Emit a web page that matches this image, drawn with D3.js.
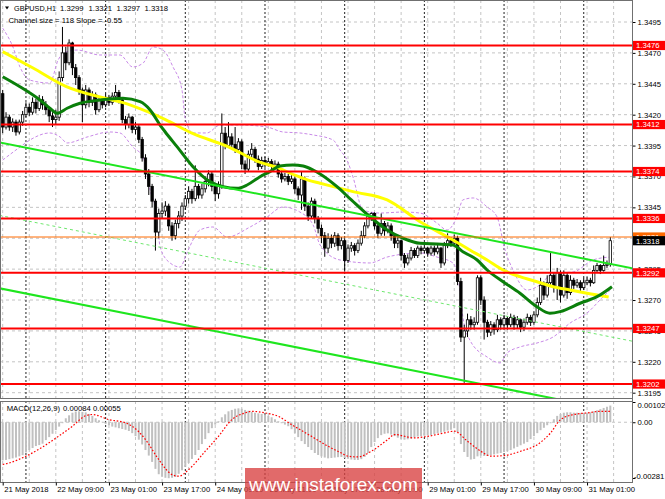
<!DOCTYPE html>
<html><head><meta charset="utf-8">
<script src="https://cdn.jsdelivr.net/npm/d3@7"></script>
<style>
body{margin:0;background:#fff}
svg{display:block}
text{font-family:"Liberation Sans",Arial,sans-serif;}
</style>
</head><body>
<svg id="c" width="665" height="499"></svg>
<script>
// ---------- DATA (prices stored as pips above 1.3000) ----------
const BASE = 1.3;
const firstOpen = 437;
const closePips = [410,418,410,414,406,414,420,426,422,430,
425,432,428,424,419,416,418,450,470,462,
478,458,450,440,428,440,430,436,424,432,
428,434,430,435,438,432,416,412,418,408,
410,400,385,372,362,350,325,340,342,346,
330,322,332,338,346,352,358,352,362,355,
360,366,372,362,356,362,405,395,402,396,
392,398,380,376,388,392,384,378,383,380,
382,378,380,372,368,370,366,368,360,355,
368,346,338,350,336,328,322,312,320,316,
322,314,318,302,312,314,310,316,322,330,
338,340,330,324,332,326,330,322,316,318,
306,300,304,310,306,312,310,312,308,312,
309,312,300,314,318,316,320,285,240,245,
254,250,252,288,270,252,244,250,246,254,
250,255,250,256,250,254,248,252,256,252,
258,268,282,274,284,290,280,292,274,290,
276,286,282,284,280,284,286,284,294,298,
294,298,299,318];
const highPips = [440,422,420,417,416,416,423,430,429,434,
433,436,435,431,426,422,424,455,491,475,
481,479,461,452,442,444,442,439,438,434,
435,437,436,438,444,440,434,419,421,419,
414,412,402,388,376,364,352,344,349,350,
348,333,335,342,349,355,362,360,379,364,
364,370,375,374,364,366,421,410,414,405,
410,401,400,383,391,397,394,387,386,386,
385,384,383,382,375,373,372,371,370,362,
374,370,349,353,352,338,331,325,324,323,
325,324,321,320,315,317,316,319,326,333,
340,341,341,332,340,334,333,332,324,321,
319,308,307,313,312,314,314,314,313,314,
314,315,313,317,324,321,323,322,288,250,
259,257,256,290,290,273,254,253,252,258,
256,258,257,259,258,257,255,255,259,258,
261,272,288,285,290,308,292,296,294,294,
292,290,288,287,286,288,289,288,298,300,
299,306,302,321];
const lowPips = [405,408,407,406,403,404,411,418,419,420,
421,423,424,420,414,410,412,415,447,456,
460,452,444,436,414,425,426,427,420,422,
425,426,427,428,432,429,413,408,409,405,
404,397,382,368,355,345,310,320,336,338,
326,318,319,328,334,343,348,348,350,352,
352,357,362,358,350,352,360,392,393,392,
389,390,376,372,374,385,381,375,376,377,
378,375,376,369,365,366,363,364,356,351,
343,342,334,336,332,324,316,305,308,312,
313,310,311,293,300,309,306,308,314,320,
328,334,327,320,322,322,324,318,312,312,
302,296,298,302,304,304,307,308,305,306,
306,307,296,298,312,313,314,282,236,203,
240,246,246,250,266,238,240,241,242,244,
246,247,246,248,246,247,244,245,250,249,
250,256,266,270,272,281,276,270,268,272,
271,274,279,280,277,278,282,281,283,292,
291,293,296,297];

// moving averages / bands: [bar index, pips]
const maYellow = [[0,471],[9,458],[19,443],[29,434.5],[36,430],[44,422],[49,416],[57,405],[68,394],[77,382],[83,377],[88,371],[92,367],[95.6,364.5],[105.5,357.7],[115.8,351],[125.7,333.4],[135.6,318.6],[140.7,310.5],[145.9,302.4],[150.7,294.3],[155.8,288.9],[160.9,284.8],[165.8,280.8],[170.9,278.1],[176,275.5],[182.5,272.5]];
const maGreen = [[0,450.7],[5.2,442.6],[11.2,431.9],[14.2,425.2],[16.4,421.1],[19.4,425.2],[23.3,429.2],[29.3,431.9],[36.2,433.3],[41.4,430.5],[44.4,423.8],[47.4,411.6],[48.9,406.2],[52.5,394.1],[57.3,377.9],[62.4,365.8],[66.4,361.7],[70.6,360.4],[73.6,363.1],[77.5,369.8],[80.5,373.9],[83.5,378.5],[87.4,379.3],[90.5,378.5],[93.5,375.2],[95.6,372],[100.7,361.7],[105,351],[110.6,337.4],[115.8,326.7],[120.6,320],[125.7,315.9],[130.8,315.3],[135.6,314.5],[138.6,309.1],[142.9,302.4],[145.9,294.3],[150.7,284.8],[155.8,275.5],[160.9,264.6],[164.8,259.3],[167.9,260.6],[173.9,267.4],[179,272.7],[183.5,280.8]];
const bandUpper = [[0,490],[3.1,474.7],[5.2,458.6],[8.2,448],[14.2,445.6],[16.7,464.2],[18.2,469.9],[22.4,472.3],[29.3,468.3],[35.3,468.3],[39.2,458.6],[42.3,461.8],[45.3,474.8],[48.3,472.3],[51.3,458.6],[54,440],[54.9,418.1],[57.3,405.2],[61.5,405.2],[65.5,411.6],[71.5,411.6],[79.6,410],[84.4,406],[89.5,405.2],[93.5,403.6],[99.5,399.5],[101.6,391.4],[103.7,383.3],[105.5,369.6],[108.5,342.9],[113.6,340.4],[120.6,341.2],[125.7,340.4],[130.8,332.3],[133.8,326.7],[136.8,337.2],[138.6,351],[141.7,352.6],[145.9,345.3],[148.9,337.2],[151.3,310.5],[153.7,294.3],[157.9,278.1],[161.8,282.2],[165.8,291.9],[171.8,292.7],[177.8,302.4],[182.9,304.8]];
const bandLower = [[0,383.3],[5.2,393.8],[8.2,399.5],[14.2,405.2],[17.3,401.9],[19.4,397.1],[25.4,401.9],[32.3,406],[35.3,405.2],[39.2,393.8],[42.3,385.7],[44.4,359],[46.5,337.2],[47.4,312.9],[50.4,300],[53.4,296.7],[55.5,308.1],[57.3,318.6],[59.4,326.7],[63.3,329.1],[67.6,321],[74.5,329.1],[79.6,337.2],[84.4,345.3],[89.5,341.2],[93.5,330.7],[95.6,314.5],[101.6,302.4],[110.6,300],[115.8,304.8],[125.7,308.1],[130.8,304.8],[135.6,300],[137.7,278.1],[138.6,256.3],[140.7,237.6],[145.9,223.9],[149.8,219.1],[151.9,227.1],[155.8,232],[160.9,235.2],[165.8,240.1],[170.9,251.4],[176,259.5],[180.8,272.5],[183,278.1]];

// regression channel: [bar, pips] anchors of upper line, width in pips
const channelStart = [0, 397];
const channelEnd = [190, 295.5];
const channelSize = 118;

const levels = [1.3476, 1.3412, 1.3374, 1.3336, 1.3292, 1.3247, 1.3202];
const askPrice = 1.3321;
const bidPrice = 1.3318;
const priceTicks = [1.3195,1.3220,1.3245,1.3270,1.3295,1.3320,1.3345,1.3370,1.3395,1.3420,1.3445,1.3470,1.3495];

const headerName = "GBPUSD,H1";
const headerOHLC = [1.3299, 1.3321, 1.3297, 1.3318];
const macdTitle = "MACD(12,26,9)";
const macdValues = [0.00084, 0.00055];

const timeTickBars = [0,16,32,48,64,80,96,112,128,144,160,176];
const timeLabels = ["21 May 2018","22 May 09:00","23 May 01:00","23 May 17:00","24 May 09:00","25 May 01:00","25 May 17:00","28 May 09:00","29 May 01:00","29 May 17:00","30 May 09:00","31 May 01:00"];
const gridBars = [0,8,16,24,32,40,48,56,64,72,80,88,96,104,112,120,128,136,144,152,160,168,176,184];
const daySepBars = [7,31,55,79,103,127,151,175];

// MACD histogram (units of 0.00001)
const macdHist = [-192,-190,-186,-182,-178,-172,-166,-152,-140,-130,
-120,-115,-108,-90,-75,-58,-40,-22,-5,20,
35,48,54,55,52,50,42,32,20,10,
2,-8,-15,-22,-26,-30,-34,-38,-44,-55,
-70,-88,-112,-140,-168,-200,-235,-262,-275,-280,
-282,-280,-276,-260,-242,-225,-205,-185,-165,-140,
-110,-85,-55,-30,-12,5,25,40,55,62,
68,70,68,62,58,52,48,45,42,38,
32,25,15,5,-5,-12,-20,-35,-55,-75,
-95,-110,-125,-140,-155,-165,-172,-178,-182,-180,
-178,-176,-175,-180,-184,-188,-190,-190,-186,-175,
-155,-125,-100,-80,-65,-58,-56,-62,-70,-78,
-85,-88,-86,-82,-76,-72,-70,-68,-66,-64,
-60,-55,-52,-48,-42,-38,-30,-50,-110,-150,
-175,-188,-185,-172,-168,-170,-170,-166,-162,-158,
-155,-150,-146,-140,-132,-124,-116,-108,-100,-85,
-70,-55,-40,-28,-15,-5,15,32,42,48,
50,50,48,48,47,47,48,50,55,60,
66,72,78,84];
// MACD signal: [bar, units of 0.00001]
const macdSignal = [[0,-213],[2,-205],[7,-171],[12,-125],[16,-80],[21,-20],[25,33],[27,39],[32,13],[37,-3],[39,-20],[43,-87],[47,-188],[51,-264],[53,-272],[56,-239],[61,-146],[65,-71],[69,13],[73,47],[75,55],[79,47],[83,30],[87,-12],[93,-71],[98,-121],[102,-155],[104,-171],[107,-175],[111,-146],[116,-87],[118,-62],[124,-79],[128,-71],[133,-54],[136,-45],[140,-96],[144,-146],[147,-171],[151,-168],[156,-146],[161,-113],[165,-54],[168,13],[172,39],[176,47],[180,55],[183,55]];
const macdTicks = [0.00102, 0, -0.00281];

// ---------- DRAW ----------
const FS = 7.7;
const FF = '"Liberation Sans",Arial,sans-serif';
const P = v => BASE + v / 10000;
const M = v => v / 100000;
const svg = d3.select("#c");
const W = 665, H = 499;
const plotR = 632;
const mainTop = 0, mainBot = 398, macdTop = 401, macdBot = 482;

const x = d3.scaleLinear().domain([0, 183]).range([2.7, 610.3]);
const y = d3.scaleLinear().domain([1.3195, 1.3495]).range([392.7, 22]);
const ym = d3.scaleLinear().domain([-0.00281, 0.00102]).range([478, 402]);

svg.append("rect").attr("width", W).attr("height", H).attr("fill", "#fff");

const defs = svg.append("defs");
defs.append("clipPath").attr("id", "clipMain").append("rect")
  .attr("x", 0).attr("y", mainTop).attr("width", plotR).attr("height", mainBot - mainTop);
defs.append("clipPath").attr("id", "clipMacd").append("rect")
  .attr("x", 0).attr("y", macdTop).attr("width", plotR).attr("height", macdBot - macdTop);

const gMain = svg.append("g").attr("clip-path", "url(#clipMain)");
const gMacd = svg.append("g").attr("clip-path", "url(#clipMacd)");

// grid
priceTicks.forEach(p => {
  gMain.append("line").attr("x1", 0).attr("x2", plotR).attr("y1", y(p)).attr("y2", y(p))
    .attr("stroke", "#c4c4c4").attr("stroke-dasharray", "3,3");
});
gridBars.forEach(b => {
  [[mainTop, mainBot, gMain], [macdTop, macdBot, gMacd]].forEach(([a, c, g]) => {
    g.append("line").attr("x1", x(b)).attr("x2", x(b)).attr("y1", a).attr("y2", c)
      .attr("stroke", "#c4c4c4").attr("stroke-dasharray", "3,3");
  });
});
daySepBars.forEach(b => {
  [[mainTop, mainBot, gMain], [macdTop, macdBot, gMacd]].forEach(([a, c, g]) => {
    g.append("line").attr("x1", x(b)).attr("x2", x(b)).attr("y1", a).attr("y2", c)
      .attr("stroke", "#222").attr("stroke-dasharray", "2,2");
  });
});

// bollinger bands
const lineP = d3.line().x(d => x(d[0])).y(d => y(P(d[1]))).curve(d3.curveMonotoneX);
[bandUpper, bandLower].forEach(b => {
  gMain.append("path").attr("d", lineP(b)).attr("fill", "none")
    .attr("stroke", "#c98ae8").attr("stroke-width", 1).attr("stroke-dasharray", "3,2");
});

// candles
const candles = closePips.map((c, i) => ({
  i, o: i === 0 ? firstOpen : closePips[i - 1], c, h: highPips[i], l: lowPips[i]
}));
const gC = gMain.append("g");
gC.selectAll("line.w").data(candles).join("line")
  .attr("x1", d => x(d.i)).attr("x2", d => x(d.i))
  .attr("y1", d => y(P(d.h))).attr("y2", d => y(P(d.l)))
  .attr("stroke", "#000").attr("stroke-width", 1);
gC.selectAll("rect.b").data(candles).join("rect")
  .attr("x", d => x(d.i) - 1.2).attr("width", 2.4)
  .attr("y", d => y(P(Math.max(d.o, d.c))))
  .attr("height", d => Math.max(0.8, Math.abs(y(P(d.o)) - y(P(d.c)))))
  .attr("fill", d => d.c >= d.o ? "#fff" : "#000")
  .attr("stroke", "#000").attr("stroke-width", 0.8);

// moving averages
gMain.append("path").attr("d", lineP(maYellow)).attr("fill", "none")
  .attr("stroke", "#ffff00").attr("stroke-width", 3);
gMain.append("path").attr("d", lineP(maGreen)).attr("fill", "none")
  .attr("stroke", "#0a7f0a").attr("stroke-width", 3);

// regression channel
const slope = (channelEnd[1] - channelStart[1]) / (channelEnd[0] - channelStart[0]);
const chanAt = (b, off) => channelStart[1] + slope * (b - channelStart[0]) - off;
[[0, "#1ee61e", 2, null], [channelSize / 2, "#6ee86e", 1, "3,3"], [channelSize, "#1ee61e", 2, null]].forEach(([off, col, w, dash]) => {
  const pts = [[-1, chanAt(-1, off)], [190, chanAt(190, off)]];
  gMain.append("path").attr("d", d3.line().x(d => x(d[0])).y(d => y(P(d[1])))(pts))
    .attr("stroke", col).attr("stroke-width", w).attr("fill", "none")
    .attr("stroke-dasharray", dash);
});

// horizontal levels
levels.forEach(l => {
  gMain.append("line").attr("x1", 0).attr("x2", plotR).attr("y1", y(l)).attr("y2", y(l))
    .attr("stroke", "#ff0000").attr("stroke-width", 2);
});
gMain.append("line").attr("x1", 0).attr("x2", plotR).attr("y1", y(askPrice)).attr("y2", y(askPrice))
  .attr("stroke", "#ff6a00").attr("stroke-width", 1);

// frames
svg.append("rect").attr("x", 0.5).attr("y", 0.5).attr("width", plotR).attr("height", mainBot)
  .attr("fill", "none").attr("stroke", "#707070");
svg.append("rect").attr("x", 0.5).attr("y", macdTop + 0.5).attr("width", plotR).attr("height", macdBot - macdTop)
  .attr("fill", "none").attr("stroke", "#707070");

// price axis
const axY = svg.append("g").attr("transform", `translate(${plotR + 0.5},0)`)
  .call(d3.axisRight(y).tickValues(priceTicks).tickSize(3).tickPadding(2).tickFormat(d => d.toFixed(4)));
axY.select(".domain").remove();
axY.selectAll("text").attr("font-size", FS).attr("fill", "#000").attr("font-family", FF);
axY.selectAll("line").attr("stroke", "#000");

// level labels
const lab = svg.append("g");
function tag(p, bg) {
  lab.append("rect").attr("x", plotR + 1).attr("y", y(p) - 4.6).attr("width", W - plotR - 1).attr("height", 9.2).attr("fill", bg);
  lab.append("text").attr("x", plotR + 4).attr("y", y(p) + 2.8).attr("fill", "#fff")
    .attr("font-size", FS).text(p.toFixed(4));
}
levels.forEach(l => tag(l, "#ff0000"));
tag(askPrice, "#ff6a00");
tag(bidPrice, "#000");

// header
svg.append("path").attr("d", "M5,6.5 L9,6.5 L7,9.5 Z").attr("fill", "#000");
const hx = [60, 88.5, 116.5, 144.5];
svg.append("text").attr("x", 14).attr("y", 11.3).attr("font-size", FS)
  .attr("textLength", 42).attr("lengthAdjust", "spacingAndGlyphs").text(headerName);
headerOHLC.forEach((v, k) => {
  svg.append("text").attr("x", hx[k]).attr("y", 11.3).attr("font-size", FS).text(v.toFixed(4));
});
svg.append("text").attr("x", 8.5).attr("y", 22.5).attr("font-size", FS)
  .text("Channel size = " + channelSize + " Slope = -0.55");

// MACD
gMacd.append("line").attr("x1", 0).attr("x2", plotR).attr("y1", ym(0)).attr("y2", ym(0))
  .attr("stroke", "#c4c4c4").attr("stroke-dasharray", "3,3");
gMacd.selectAll("rect.h").data(macdHist).join("rect")
  .attr("x", (d, i) => x(i) - 1).attr("width", 2)
  .attr("y", d => Math.min(ym(0), ym(M(d))))
  .attr("height", d => Math.abs(ym(M(d)) - ym(0)))
  .attr("fill", "#c0c0c0");
gMacd.append("path")
  .attr("d", d3.line().x(d => x(d[0])).y(d => ym(M(d[1]))).curve(d3.curveMonotoneX)(macdSignal))
  .attr("fill", "none").attr("stroke", "#ff0000").attr("stroke-width", 1.2).attr("stroke-dasharray", "1.6,1.8");
svg.append("text").attr("x", 6.7).attr("y", 411).attr("font-size", FS).text(macdTitle);
const mx = [63, 93];
macdValues.forEach((v, k) => {
  svg.append("text").attr("x", mx[k]).attr("y", 411).attr("font-size", FS).text(v.toFixed(5));
});
const axM = svg.append("g").attr("transform", `translate(${plotR + 0.5},0)`)
  .call(d3.axisRight(ym).tickValues(macdTicks).tickSize(3).tickPadding(2)
    .tickFormat(d => d === 0 ? "0.00" : d.toFixed(5)));
axM.select(".domain").remove();
axM.selectAll("text").attr("font-size", FS).attr("fill", "#000").attr("font-family", FF);
axM.selectAll("line").attr("stroke", "#000");
axM.selectAll(".tick").filter(d => d > 0).select("text").attr("y", 3);
axM.selectAll(".tick").filter(d => d < 0).select("text").attr("y", -2).attr("x", 1.5);

// right vertical axis line
svg.append("line").attr("x1", plotR + 0.5).attr("x2", plotR + 0.5).attr("y1", 0).attr("y2", macdBot + 0.5)
  .attr("stroke", "#707070");

// time axis
const axX = svg.append("g").attr("transform", `translate(0,${macdBot + 0.5})`)
  .call(d3.axisBottom(x).tickValues(timeTickBars).tickSize(3).tickPadding(1)
    .tickFormat(d => timeLabels[timeTickBars.indexOf(d)]));
axX.select(".domain").remove();
axX.selectAll("text").attr("font-size", FS).attr("fill", "#000").attr("text-anchor", "start").attr("dx", 1)
  .attr("font-family", FF);
axX.selectAll("line").attr("stroke", "#000");

// watermark
svg.append("rect").attr("x", 245).attr("y", 468).attr("width", 177).attr("height", 31)
  .attr("fill", "#d94040").attr("opacity", 0.78);
svg.append("text").attr("x", 333.5).attr("y", 491).attr("text-anchor", "middle")
  .attr("font-size", 19).attr("fill", "#fff").text("www.instaforex.com");
</script>
</body></html>
